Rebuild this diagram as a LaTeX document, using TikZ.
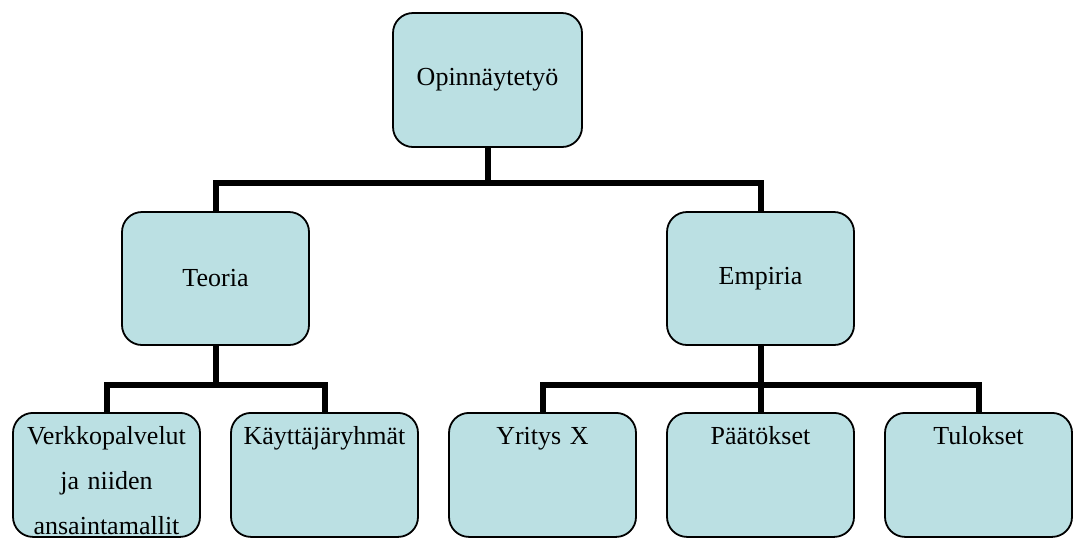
\documentclass[tikz,border=0pt]{standalone}
\usepackage{fontspec}
\setmainfont{Liberation Serif}
\usetikzlibrary{positioning}
\definecolor{boxblue}{RGB}{187,224,227}
\tikzset{
  box/.style = {draw, fill=boxblue, line width=0.9pt, rounded corners=10pt,
                minimum width=93.5pt, minimum height=#1, inner sep=0pt,
                font=\fontsize{13}{22.5}\selectfont},
  box/.default = 66.5pt,
  leaf/.style = {box=62pt, anchor=north, text width=93.5pt, align=center,
                 inner ysep=6pt, text height=10pt, text depth=40pt},
  branch/.style = {line width=3pt}
}

\begin{document}
\begin{tikzpicture}[x=0.5pt, y=-0.5pt]
	\useasboundingbox (0,0) rectangle (1074,538);

	% Top level
	\node[box=67pt, minimum width=94.5pt] (thesis) at (487.5,80) {Opinnäytetyö};

	% Second level
	\node[box] (teoria)  at (215.5,278.5) {Teoria};
	\node[box] (empiria) at (760.5,278.5) {Empiria};

	% Third level
	\node[leaf] (verkko)   at (106.5,412) {Verkkopalvelut\\ja niiden\\ansaintamallit};
	\node[leaf] (kayttaja) at (324.5,412) {Käyttäjäryhmät};
	\node[leaf] (yritys)   at (542.5,412) {Yritys X};
	\node[leaf] (paatos)   at (760.5,412) {Päätökset};
	\node[leaf] (tulos)    at (978.5,412) {Tulokset};

	% Junctions
	\coordinate[below=17.5pt of thesis.south]  (jthesis);
	\coordinate[below=19.5pt of teoria.south]  (jteoria);
	\coordinate[below=19.5pt of empiria.south] (jempiria);

	% Connectors
	\draw[branch] (thesis.south) -- (jthesis) -| (teoria.north);
	\draw[branch] (jthesis) -| (empiria.north);

	\draw[branch] (teoria.south) -- (jteoria) -| (verkko.north);
	\draw[branch] (jteoria) -| (kayttaja.north);

	\draw[branch] (empiria.south) -- (jempiria) -| (yritys.north);
	\draw[branch] (jempiria) -- (paatos.north);
	\draw[branch] (jempiria) -| (tulos.north);
\end{tikzpicture}
\end{document}
